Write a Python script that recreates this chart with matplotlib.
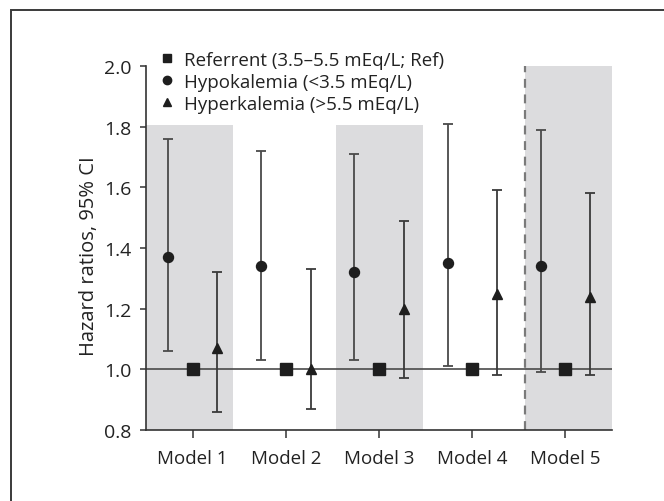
import matplotlib
matplotlib.use('Agg')
import matplotlib.pyplot as plt
from matplotlib.lines import Line2D
from matplotlib.patches import Rectangle

plt.rcParams['font.family'] = ['Open Sans', 'DejaVu Sans']

# data
models = ['Model 1', 'Model 2', 'Model 3', 'Model 4', 'Model 5']
ref_hr = [1.0, 1.0, 1.0, 1.0, 1.0]
hypo_hr = [1.37, 1.34, 1.32, 1.35, 1.34]
hypo_lo = [1.06, 1.03, 1.03, 1.01, 0.99]
hypo_hi = [1.76, 1.72, 1.71, 1.81, 1.79]
hyper_hr = [1.07, 1.00, 1.20, 1.25, 1.24]
hyper_lo = [0.86, 0.87, 0.97, 0.98, 0.98]
hyper_hi = [1.32, 1.33, 1.49, 1.59, 1.58]

# shaded columns (x from, x to, top)
shades = [(0.5, 1.43, 1.807), (2.54, 3.47, 1.807), (4.565, 5.5, 2.0)]

x = list(range(1, len(models) + 1))
off = 0.265

fig = plt.figure(figsize=(6.64, 5.02), dpi=100)
ax = fig.add_axes([0.2199, 0.1414, 0.7018, 0.7251])

for x0, x1, top in shades:
    ax.fill_between([x0, x1], 0.8, top, color='#dcdcde', lw=0, zorder=0)

ax.plot([shades[2][0], shades[2][0]], [0.8, 2.0], color='#7a7a7a', lw=1.6,
        dashes=(4, 3), zorder=1)
ax.axhline(1.0, color='#4a4a4a', lw=1.2, zorder=1)

xc = [v - off for v in x]
xt = [v + off for v in x]
ax.errorbar(xc, hypo_hr,
            yerr=[[h - l for h, l in zip(hypo_hr, hypo_lo)],
                  [u - h for h, u in zip(hypo_hr, hypo_hi)]],
            fmt='o', color='#1e1e1e', ecolor='#4a4a4a', elinewidth=1.3,
            capsize=3.8, capthick=1.3, markersize=7.2, zorder=3)
ax.errorbar(xt, hyper_hr,
            yerr=[[h - l for h, l in zip(hyper_hr, hyper_lo)],
                  [u - h for h, u in zip(hyper_hr, hyper_hi)]],
            fmt='^', color='#1e1e1e', ecolor='#3a3a3a', elinewidth=1.3,
            capsize=3.8, capthick=1.3, markersize=7.6, zorder=3)
ax.plot(x, ref_hr, 's', color='#1e1e1e', markersize=8, zorder=4)

ax.set_xlim(0.5, 5.5)
ax.set_ylim(0.8, 2.0)
ax.set_yticks([0.8, 1.0, 1.2, 1.4, 1.6, 1.8, 2.0])
ax.set_yticklabels(['0.8', '1.0', '1.2', '1.4', '1.6', '1.8', '2.0'])
ax.set_xticks(x)
ax.set_xticklabels(models)
ax.tick_params(axis='y', length=4.5, width=1.1, color='#333333', pad=6,
               labelsize=14, labelcolor='#222222')
ax.tick_params(axis='x', length=6, width=1.1, color='#333333', pad=8,
               labelsize=13.5, labelcolor='#222222')
for s in ['top', 'right']:
    ax.spines[s].set_visible(False)
for s in ['left', 'bottom']:
    ax.spines[s].set_color('#333333')
    ax.spines[s].set_linewidth(1.2)
ax.set_ylabel('Hazard ratios, 95% CI', fontsize=14.5, color='#222222', labelpad=7)
ax.yaxis.set_label_coords(-0.1, 0.48)

handles = [
    Line2D([], [], marker='s', ls='none', color='#1e1e1e', markersize=6),
    Line2D([], [], marker='o', ls='none', color='#1e1e1e', markersize=6),
    Line2D([], [], marker='^', ls='none', color='#1e1e1e', markersize=5.5),
]
labels = ['Referrent (3.5\u20135.5 mEq/L; Ref)', 'Hypokalemia (<3.5 mEq/L)',
          'Hyperkalemia (>5.5 mEq/L)']
ax.legend(handles, labels, loc='upper left', bbox_to_anchor=(0.0, 1.078),
          frameon=False, fontsize=13.5, handlelength=0.8, handletextpad=0.5,
          labelspacing=0.22, borderpad=0.2, labelcolor='#222222')

# outer frame
fig.patches.append(Rectangle((11 / 664, -0.1), 1.2, 1 - 11 / 502 + 0.1,
                             transform=fig.transFigure, fill=False,
                             edgecolor='#3a3a3a', lw=1.4))

fig.savefig('out.png', dpi=100)
